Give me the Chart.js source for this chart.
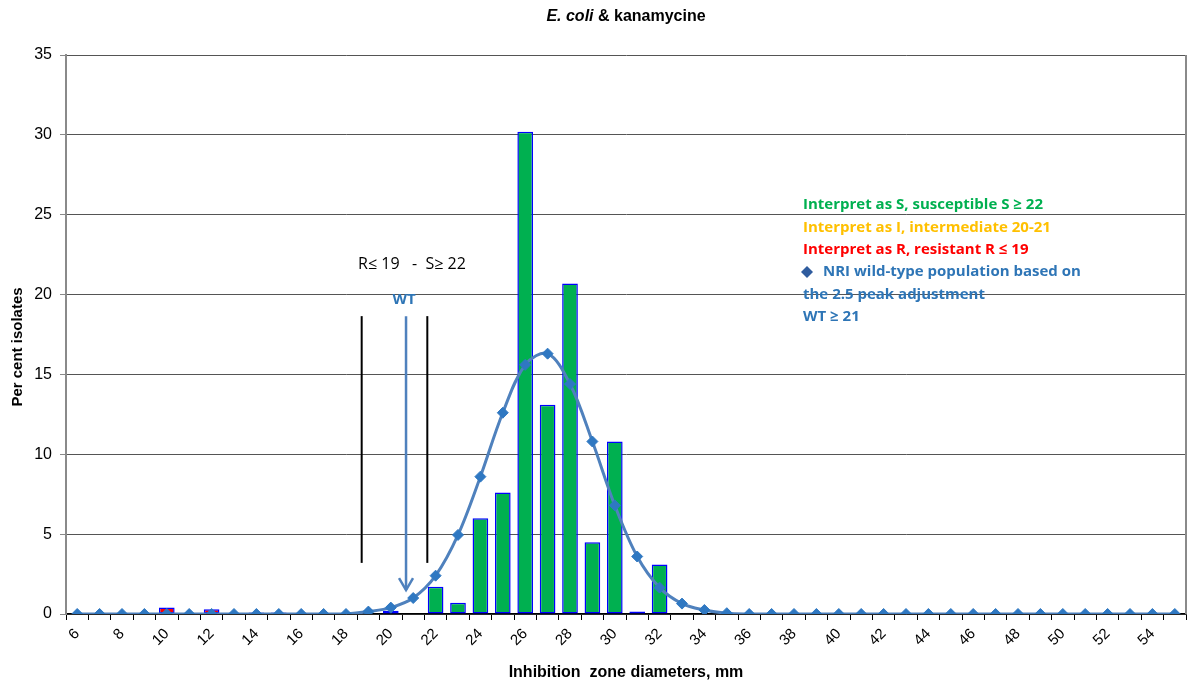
<!DOCTYPE html>
<html>
<head>
<meta charset="utf-8">
<script src="https://cdn.jsdelivr.net/npm/chart.js@4/dist/chart.umd.min.js"></script>
<style>
  html, body { margin: 0; padding: 0; background: #fff; }
  #wrap { width: 1194px; height: 686px; }
</style>
</head>
<body>
<div id="wrap"><canvas id="c" width="1194" height="686"></canvas></div>
<script>
// Inhibition zone diameters (mm), one category per millimetre
const diameters = [6, 7, 8, 9, 10, 11, 12, 13, 14, 15, 16, 17, 18, 19, 20, 21, 22, 23, 24, 25,
                   26, 27, 28, 29, 30, 31, 32, 33, 34, 35, 36, 37, 38, 39, 40, 41, 42, 43, 44, 45,
                   46, 47, 48, 49, 50, 51, 52, 53, 54, 55];

// Per cent isolates, resistant R <= 19
const resistant = [null, null, null, null, 0.4, null, 0.3, null, 0.1, 0.1, null, null, null, null, null, null, null, null, null, null,
                   null, null, null, null, null, null, null, null, null, null, null, null, null, null, null, null, null, null, null, null,
                   null, null, null, null, null, null, null, null, null, null];

// Per cent isolates, intermediate 20-21
const intermediate = [null, null, null, null, null, null, null, null, null, null, null, null, null, null, 0.2, null, null, null, null, null,
                      null, null, null, null, null, null, null, null, null, null, null, null, null, null, null, null, null, null, null, null,
                      null, null, null, null, null, null, null, null, null, null];

// Per cent isolates, susceptible S >= 22
const susceptible = [null, null, null, null, null, null, null, null, null, null, null, null, null, null, null, null, 1.7, 0.7, 6.0, 7.6,
                     30.2, 13.1, 20.7, 4.5, 10.8, 0.15, 3.1, null, null, null, null, null, null, null, null, null, null, null, null, null,
                     null, null, null, null, null, null, null, null, null, null];

// NRI wild-type population (2.5 peak adjustment)
const wildType = [0, 0, 0, 0, 0, 0, 0, 0, 0, 0, 0, 0, 0, 0.15, 0.4, 1.0, 2.4, 4.95, 8.6, 12.6,
                  15.6, 16.3, 14.4, 10.8, 6.8, 3.6, 1.65, 0.65, 0.25, 0.05, 0, 0, 0, 0, 0, 0, 0, 0, 0, 0,
                  0, 0, 0, 0, 0, 0, 0, 0, 0, 0];

const yTicks = [0, 5, 10, 15, 20, 25, 30, 35];

const SANS = "'Liberation Sans', Arial, sans-serif";
const CAL = "'Open Sans', sans-serif";

const barStyle = {
  borderColor: '#0000FF',
  borderWidth: 1.5,
  borderSkipped: false,
  barPercentage: 0.7,
  categoryPercentage: 1.0,
  grouped: false,
  order: 1
};

// Hand-placed marks on the chart: breakpoint bars, WT arrow, and text notes
const overlay = {
  id: 'overlay',
  afterDraw(chart) {
    const ctx = chart.ctx;
    const xs = chart.scales.x, ys = chart.scales.y, area = chart.chartArea;
    const px = v => xs.getPixelForValue(v - diameters[0]);
    const py = v => ys.getPixelForValue(v);
    ctx.save();

    // right frame of plot area
    ctx.strokeStyle = '#8a8a8a';
    ctx.lineWidth = 2;
    ctx.beginPath();
    ctx.moveTo(area.right, area.top);
    ctx.lineTo(area.right, area.bottom);
    ctx.stroke();

    // title
    ctx.fillStyle = '#000';
    ctx.textBaseline = 'middle';
    const f1 = `italic bold 16px ${SANS}`, f2 = `bold 16px ${SANS}`;
    ctx.font = f1; const w1 = ctx.measureText('E. coli').width;
    ctx.font = f2; const w2 = ctx.measureText(' & kanamycine').width;
    const tx = (area.left + area.right) / 2 - (w1 + w2) / 2;
    ctx.textAlign = 'left';
    ctx.font = f1; ctx.fillText('E. coli', tx, 17);
    ctx.font = f2; ctx.fillText(' & kanamycine', tx + w1, 17);

    // y axis title
    ctx.save();
    ctx.translate(18, 347);
    ctx.rotate(-Math.PI / 2);
    ctx.textAlign = 'center';
    ctx.font = `bold 15px ${SANS}`;
    ctx.fillText('Per cent isolates', 0, 0);
    ctx.restore();

    // x axis title
    ctx.textAlign = 'center';
    ctx.font = `bold 16px ${SANS}`;
    ctx.fillText('Inhibition  zone diameters, mm', (area.left + area.right) / 2, 673);

    // breakpoint bars
    ctx.strokeStyle = '#000';
    ctx.lineWidth = 2;
    [18.7, 21.63].forEach(v => {
      ctx.beginPath();
      ctx.moveTo(px(v), py(18.65));
      ctx.lineTo(px(v), py(3.2));
      ctx.stroke();
    });

    // breakpoint note
    ctx.font = `16px ${CAL}`;
    ctx.fillStyle = '#000';
    ctx.textAlign = 'left';
    ctx.fillText('R\u2264 19   -  S\u2265 22', px(18.54), py(21.9));

    // WT arrow
    const ax = px(20.68);
    ctx.strokeStyle = '#4F81BD';
    ctx.lineWidth = 2.5;
    ctx.beginPath();
    ctx.moveTo(ax, py(18.65));
    ctx.lineTo(ax, py(1.5));
    ctx.stroke();
    ctx.beginPath();
    ctx.moveTo(ax - 7, py(1.5) - 12);
    ctx.lineTo(ax, py(1.5));
    ctx.lineTo(ax + 7, py(1.5) - 12);
    ctx.stroke();
    ctx.font = `bold 15px ${CAL}`;
    ctx.fillStyle = '#2E75B6';
    ctx.textAlign = 'center';
    ctx.fillText('WT', px(20.59), py(19.66));

    // interpretation notes
    ctx.textAlign = 'left';
    ctx.font = `bold 15px ${CAL}`;
    const notes = [
      ['Interpret as S, susceptible S \u2265 22', '#00B050', 803, 205],
      ['Interpret as I, intermediate 20-21', '#FFC000', 803, 227.5],
      ['Interpret as R, resistant R \u2264 19', '#FF0000', 803, 250],
      ['NRI wild-type population based on', '#2E75B6', 823, 272],
      ['the 2.5 peak adjustment', '#2E75B6', 803, 294.5],
      ['WT \u2265 21', '#2E75B6', 803, 317]
    ];
    notes.forEach(([t, c, x, y]) => { ctx.fillStyle = c; ctx.fillText(t, x, y); });
    // diamond key
    ctx.fillStyle = '#2F5C9E';
    ctx.beginPath();
    ctx.moveTo(807, 266); ctx.lineTo(813, 272); ctx.lineTo(807, 278); ctx.lineTo(801, 272);
    ctx.closePath();
    ctx.fill();

    ctx.restore();
  }
};

new Chart(document.getElementById('c'), {
  type: 'bar',
  data: {
    labels: diameters,
    datasets: [
      { type: 'line', label: 'Wild type', data: wildType, order: 0,
        borderColor: '#4F81BD', borderWidth: 3, tension: 0.35,
        pointStyle: 'rectRot', pointRadius: 5.5, pointBackgroundColor: '#2F78C2', pointBorderColor: '#2F78C2',
        pointBorderWidth: 1 },
      Object.assign({ label: 'R', data: resistant, backgroundColor: '#FF0000' }, barStyle),
      Object.assign({ label: 'I', data: intermediate, backgroundColor: '#FFC000' }, barStyle),
      Object.assign({ label: 'S', data: susceptible, backgroundColor: '#00B050' }, barStyle)
    ]
  },
  options: {
    responsive: false,
    animation: false,
    layout: { padding: { top: 55, right: 8, left: 0, bottom: 0 } },
    plugins: { legend: { display: false }, tooltip: { enabled: false }, title: { display: false } },
    scales: {
      x: {
        offset: true,
        grid: { display: true, offset: true, drawOnChartArea: false, drawTicks: true, tickLength: 6, tickColor: '#000', tickWidth: 1 },
        border: { color: '#000', width: 1.5 },
        ticks: {
          autoSkip: false, maxRotation: 45, minRotation: 45, padding: 5,
          color: '#000', font: { family: SANS, size: 15 },
          callback(value, index) { const d = diameters[index]; return d % 2 === 0 ? String(d) : ''; }
        },
        title: { display: false },
        afterFit(s) { s.height = 72; }
      },
      y: {
        min: 0, max: 35,
        afterBuildTicks(s) { s.ticks = yTicks.map(v => ({ value: v })); },
        ticks: { color: '#000', padding: 8, font: { family: SANS, size: 16 } },
        grid: { color: '#555', lineWidth: 1, tickLength: 6, tickColor: '#888' },
        border: { color: '#8a8a8a', width: 2 },
        title: { display: false },
        afterFit(s) { s.width = 66; }
      }
    }
  },
  plugins: [overlay]
});
</script>
</body>
</html>
